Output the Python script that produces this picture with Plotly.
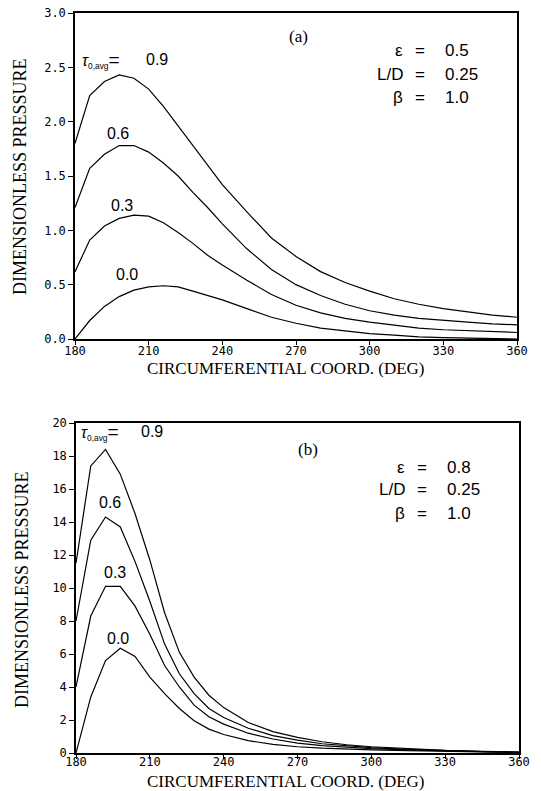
import plotly.graph_objects as go

W, H = 541, 791

# ---------------- data ----------------
x_a = [180, 186, 192, 198, 204, 210, 216, 222, 228, 234, 240, 250, 260, 270,
       280, 290, 300, 310, 320, 330, 340, 350, 360]
a_09 = [1.80, 2.24, 2.37, 2.43, 2.40, 2.30, 2.14, 1.96, 1.77, 1.59, 1.42, 1.17,
        0.93, 0.76, 0.62, 0.52, 0.44, 0.37, 0.32, 0.28, 0.25, 0.22, 0.20]
a_06 = [1.21, 1.57, 1.70, 1.78, 1.78, 1.72, 1.62, 1.50, 1.35, 1.21, 1.06, 0.83,
        0.64, 0.50, 0.40, 0.32, 0.26, 0.22, 0.19, 0.17, 0.155, 0.14, 0.13]
a_03 = [0.62, 0.91, 1.04, 1.11, 1.14, 1.13, 1.07, 0.98, 0.88, 0.77, 0.68, 0.54,
        0.41, 0.31, 0.24, 0.19, 0.155, 0.125, 0.10, 0.085, 0.075, 0.067, 0.06]
a_00 = [0.00, 0.17, 0.30, 0.39, 0.45, 0.48, 0.49, 0.48, 0.44, 0.40, 0.36, 0.28,
        0.20, 0.145, 0.10, 0.075, 0.05, 0.035, 0.02, 0.012, 0.006, 0.003, 0.0]

x_b = [180, 186, 192, 198, 204, 210, 216, 222, 228, 234, 240, 250, 260, 270,
       280, 290, 300, 315, 330, 345, 360]
b_09 = [11.5, 17.4, 18.4, 16.9, 14.5, 11.7, 8.5, 6.1, 4.6, 3.5, 2.75, 1.85,
        1.3, 0.95, 0.68, 0.5, 0.38, 0.25, 0.16, 0.10, 0.06]
b_06 = [8.0, 12.9, 14.3, 13.7, 11.6, 9.2, 6.6, 4.8, 3.6, 2.7, 2.15, 1.5,
        1.05, 0.78, 0.56, 0.42, 0.32, 0.22, 0.14, 0.09, 0.05]
b_03 = [4.0, 8.3, 10.1, 10.1, 8.9, 7.2, 5.3, 4.0, 2.9, 2.2, 1.75, 1.2,
        0.85, 0.6, 0.45, 0.34, 0.27, 0.19, 0.12, 0.08, 0.04]
b_00 = [0.0, 3.4, 5.6, 6.35, 5.85, 4.6, 3.6, 2.7, 1.95, 1.45, 1.12, 0.75,
        0.52, 0.38, 0.29, 0.23, 0.19, 0.14, 0.10, 0.06, 0.03]

x_ticks = [180, 210, 240, 270, 300, 330, 360]
ya_ticks = [0.0, 0.5, 1.0, 1.5, 2.0, 2.5, 3.0]
yb_ticks = [0, 2, 4, 6, 8, 10, 12, 14, 16, 18, 20]

curve_labels = ["0.9", "0.6", "0.3", "0.0"]
params_a = [("\u03b5", "0.5"), ("L/D", "0.25"), ("\u03b2", "1.0")]
params_b = [("\u03b5", "0.8"), ("L/D", "0.25"), ("\u03b2", "1.0")]
x_title = "CIRCUMFERENTIAL COORD. (DEG)"
y_title = "DIMENSIONLESS PRESSURE"
tau_label = ("<span style='font-size:16px'><i>\u03c4</i></span>"
             "<sub>0,avg</sub><span style='font-size:19px'>=</span>")

# ---------------- helpers ----------------
def px(x):
    return x / W

def py(y):
    return 1 - y / H

fig = go.Figure()
line = dict(color="black", width=1.2)
for ys in (a_09, a_06, a_03, a_00):
    fig.add_trace(go.Scatter(x=x_a, y=ys, mode="lines", line=line,
                             xaxis="x", yaxis="y", showlegend=False))
for ys in (b_09, b_06, b_03, b_00):
    fig.add_trace(go.Scatter(x=x_b, y=ys, mode="lines", line=line,
                             xaxis="x2", yaxis="y2", showlegend=False))

tickfont = dict(family="DejaVu Sans Mono", size=12, color="black")
common_ax = dict(showline=True, linecolor="black", linewidth=1.5, mirror=True,
                 ticks="outside", ticklen=5, tickcolor="black", tickwidth=1,
                 showgrid=False, zeroline=False, tickfont=tickfont,
                 automargin=False)
x_ax_a = dict(common_ax, ticklen=4, ticklabelstandoff=-4)
x_ax_b = dict(common_ax, ticklen=4, ticklabelstandoff=-7)

fig.update_layout(
    width=W, height=H, margin=dict(l=0, r=0, t=0, b=0, autoexpand=False),
    paper_bgcolor="white", plot_bgcolor="white", showlegend=False,
    xaxis=dict(domain=[px(75), px(517)], range=[180, 360], tickvals=x_ticks,
               anchor="y", **x_ax_a),
    yaxis=dict(domain=[py(339), py(13)], range=[0, 3.0], tickvals=ya_ticks,
               tickformat=".1f", anchor="x", **common_ax),
    xaxis2=dict(domain=[px(76), px(519)], range=[180, 360], tickvals=x_ticks,
                anchor="y2", **x_ax_b),
    yaxis2=dict(domain=[py(753), py(423)], range=[0, 20], tickvals=yb_ticks,
                anchor="x2", **common_ax),
)

ann = []
sans = "Liberation Sans"
serif = "Liberation Serif"

def text(x, y, s, size=16, family=sans, xanchor="center", angle=0):
    ann.append(dict(x=px(x), y=py(y), xref="paper", yref="paper", text=s,
                    showarrow=False, xanchor=xanchor, yanchor="middle",
                    textangle=angle,
                    font=dict(family=family, size=size, color="black")))

# axis titles
text(286, 369, x_title, size=17, family=serif)
text(286, 781, x_title, size=17, family=serif)
text(20, 177, y_title, size=18, family=serif, angle=-90)
text(22, 590, y_title, size=18, family=serif, angle=-90)

# panel labels
text(298, 36, "(a)", size=17, family=serif)
text(308, 449, "(b)", size=17, family=serif)

# parameter blocks
for params, y0, xe in ((params_a, 51, 420), (params_b, 467, 422)):
    for i, (k, v) in enumerate(params):
        yy = y0 + i * 23
        text(xe - 15, yy, k, size=17, xanchor="right")
        text(xe, yy, "=", size=17)
        text(xe + 23, yy, v, size=17, xanchor="left")

# curve labels (a)
text(80, 60, tau_label, size=12, xanchor="left")
text(157, 59, curve_labels[0], size=16)
text(118, 134, curve_labels[1], size=16)
text(122, 205, curve_labels[2], size=16)
text(127, 274, curve_labels[3], size=16)

# curve labels (b)
text(79, 432, tau_label, size=12, xanchor="left")
text(152, 431, curve_labels[0], size=16)
text(110, 502, curve_labels[1], size=16)
text(115, 572, curve_labels[2], size=16)
text(118, 638, curve_labels[3], size=16)

fig.update_layout(annotations=ann)
fig.write_html("out.html",
               config={"displayModeBar": False},
               post_script="document.body.style.margin='0';"
                           "document.body.style.padding='0';")
